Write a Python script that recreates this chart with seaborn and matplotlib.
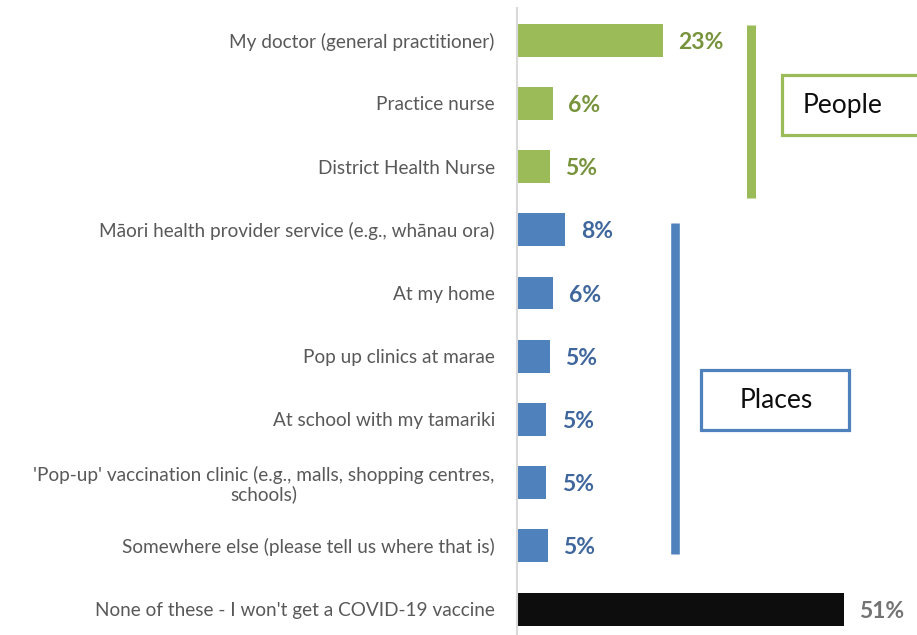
import seaborn as sns
import matplotlib.pyplot as plt
import pandas as pd
from matplotlib.lines import Line2D
from matplotlib.patches import Rectangle

categories = [
    "My doctor (general practitioner)",
    "Practice nurse",
    "District Health Nurse",
    "Māori health provider service (e.g., whānau ora)",
    "At my home",
    "Pop up clinics at marae",
    "At school with my tamariki",
    "'Pop-up' vaccination clinic (e.g., malls, shopping centres,\nschools)",
    "Somewhere else (please tell us where that is)",
    "None of these - I won't get a COVID-19 vaccine",
]
values = [22.9, 5.6, 5.1, 7.6, 5.7, 5.1, 4.6, 4.6, 4.8, 51.2]
groups = ["People"] * 3 + ["Places"] * 6 + ["None"]

bar_colors = {"People": "#9BBB59", "Places": "#4F81BD", "None": "#0D0D0D"}
label_colors = {"People": "#77933C", "Places": "#3F679D", "None": "#737373"}

df = pd.DataFrame({"category": categories, "value": values, "group": groups})

W, H = 917, 635
fig = plt.figure(figsize=(W / 100, H / 100), dpi=100)
plt.rcParams["font.family"] = ["Lato", "DejaVu Sans"]

# axes placed in pixels: left edge at the grey axis line
ax = fig.add_axes([517 / W, 0, (W - 517) / W, 1 - 8 / H])

sns.barplot(data=df, x="value", y="category", hue="group", palette=bar_colors,
            saturation=1, dodge=False, width=0.52, legend=False, ax=ax)

ax.set_xlim(0, 400 / 6.38)
ax.set_ylim(9.41, -0.51)

for i, (v, g) in enumerate(zip(values, groups)):
    ax.annotate(f"{v:.0f}%", (v, i), xytext=(11, -1.5), textcoords="offset points",
                va="center", ha="left", fontsize=16.5, fontweight="bold",
                color=label_colors[g])

ax.set_xlabel("")
ax.set_ylabel("")
ax.set_xticks([])
for s in ["top", "right", "bottom"]:
    ax.spines[s].set_visible(False)
ax.spines["left"].set_color("#D9D9D9")
ax.spines["left"].set_linewidth(1.5)
ax.tick_params(axis="y", length=0, pad=16, labelsize=13.7, labelcolor="#595959")
for t in ax.get_yticklabels():
    t.set_multialignment("center")
    t.set_linespacing(1.1)


def fx(x):
    return x / W


def fy(y):
    return 1 - y / H


# group brackets and boxes
fig.add_artist(Line2D([fx(750.5), fx(750.5)], [fy(25), fy(198)], color="#9BBB59",
                      linewidth=6.5, solid_capstyle="butt"))
fig.add_artist(Line2D([fx(675), fx(675)], [fy(223), fy(554)], color="#4F81BD",
                      linewidth=6.2, solid_capstyle="butt"))

fig.add_artist(Rectangle((fx(782), fy(135)), fx(200), 60 / H, facecolor="white",
                         edgecolor="#9BBB59", linewidth=2.3))
fig.text(fx(803), fy(106), "People", fontsize=19, color="#0D0D0D",
         ha="left", va="center")

fig.add_artist(Rectangle((fx(701), fy(430)), fx(148), 60 / H, facecolor="white",
                         edgecolor="#4F81BD", linewidth=2.3))
fig.text(fx(776), fy(400), "Places", fontsize=19, color="#0D0D0D",
         ha="center", va="center")

plt.savefig("out.png", dpi=100)
